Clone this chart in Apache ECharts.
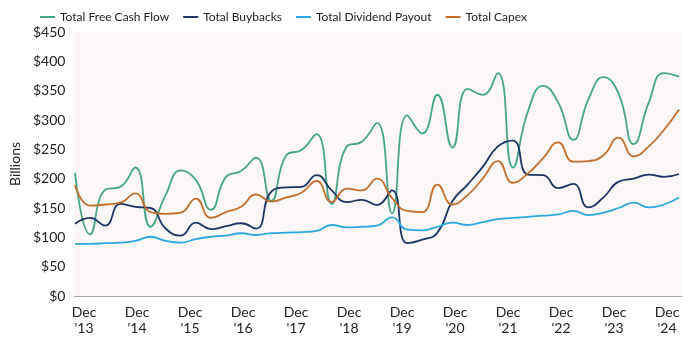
<!DOCTYPE html>
<html><head><meta charset="utf-8">
<script src="https://cdn.jsdelivr.net/npm/echarts@6/dist/echarts.min.js"></script>
<style>html,body{margin:0;padding:0;background:#fff}#c{width:700px;height:352px}</style>
</head><body><div id="c"></div>
<script>
// quarterly observation index (41 periods)
const periods = [];
for (let i = 0; i < 41; i++) periods.push('P' + (i + 1));
const yearLabels = ["Dec\n'13","Dec\n'14","Dec\n'15","Dec\n'16","Dec\n'17","Dec\n'18","Dec\n'19","Dec\n'20","Dec\n'21","Dec\n'22","Dec\n'23","Dec\n'24"];
const seriesNames = ['Total Free Cash Flow','Total Buybacks','Total Dividend Payout','Total Capex'];
const fcf = [210,105,181,186,219,118,172,214,198,147,203,213,236,162,240,249,276,157,255,263,295,141,308,277,343,253,353,343,380,219,315,358,330,266,335,373,345,259,330,380,374];
const buybacks = [123,133,120,157,152,150,115,103,125,114,119,124,115,178,185,186,206,180,160,164,155,180,90,96,108,162,190,220,255,265,207,206,184,191,151,168,195,200,207,203,208];
const dividends = [89,89,90,91,94,101,94,91,97,101,103,107,104,107,108,109,111,121,117,118,120,134,113,112,118,125,121,126,131,133,135,137,139,145,138,142,150,159,151,156,168];
const capex = [189,154,156,159,175,143,140,142,166,133,143,152,173,161,168,176,196,160,183,180,200,167,145,143,190,156,172,200,230,193,209,235,262,229,230,240,270,238,255,283,318];
const colors = ['#45A58A','#1B3567','#2BA8DF','#C46E2B'];

const FONT = "Lato, 'Liberation Sans', sans-serif";
const chart = echarts.init(document.getElementById('c'), null, {renderer: 'canvas'});
const mk = (name, data, color) => ({
  name, type: 'line', data, xAxisIndex: 1, yAxisIndex: 1,
  symbol: 'none', showSymbol: false, smooth: 0.5, color,
  lineStyle: {width: 1.8, color}
});
chart.setOption({
  animation: false,
  backgroundColor: '#ffffff',
  textStyle: {fontFamily: FONT, color: '#222'},
  legend: {
    left: 40, top: 11, padding: 0, itemWidth: 15, itemHeight: 2, itemGap: 14, icon: 'rect',
    data: seriesNames,
    textStyle: {fontSize: 12, color: '#222', fontFamily: FONT}
  },
  grid: [
    {left: 72, right: 18, top: 32, bottom: 56, show: true, backgroundColor: '#FAF7F6', borderWidth: 0},
    {left: 75, right: 21, top: 32, bottom: 56},
    {left: 84, right: 33, top: 32, bottom: 56}
  ],
  xAxis: [
    {gridIndex: 0, type: 'value', min: 0, max: 1, axisLine: {show: true, lineStyle: {color: '#A8A8A8', width: 1.2}},
     axisTick: {show: false}, axisLabel: {show: false}, splitLine: {show: false}},
    {gridIndex: 1, type: 'category', data: periods, boundaryGap: false, show: false},
    {gridIndex: 2, type: 'category', data: yearLabels, boundaryGap: false,
     axisLine: {show: false}, axisTick: {show: false}, splitLine: {show: false},
     axisLabel: {fontSize: 14, color: '#222', margin: 8, lineHeight: 16, interval: 0, fontFamily: FONT}}
  ],
  yAxis: [
    {gridIndex: 0, type: 'value', min: 0, max: 450, interval: 50,
     name: 'Billions', nameLocation: 'middle', nameGap: 41,
     nameTextStyle: {fontSize: 14, color: '#222', fontFamily: FONT},
     axisLine: {show: false}, axisTick: {show: false}, splitLine: {show: false},
     axisLabel: {formatter: v => '$' + v, fontSize: 14, color: '#222', margin: 9, fontFamily: FONT}},
    {gridIndex: 1, type: 'value', min: 0, max: 450, show: false},
    {gridIndex: 2, type: 'value', min: 0, max: 450, show: false}
  ],
  series: [
    mk(seriesNames[0], fcf, colors[0]),
    mk(seriesNames[1], buybacks, colors[1]),
    mk(seriesNames[2], dividends, colors[2]),
    mk(seriesNames[3], capex, colors[3])
  ]
});
</script></body></html>
